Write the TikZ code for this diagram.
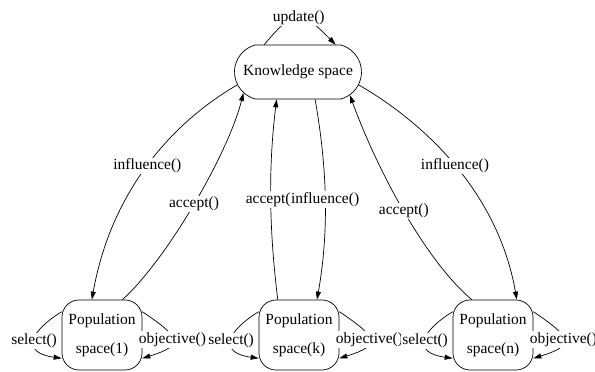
\documentclass[tikz,border=0pt]{standalone}
\usepackage{fontspec}
\setmainfont{Liberation Serif}
\usetikzlibrary{arrows.meta,shapes.misc}
\tikzset{
  kbox/.style={draw,rounded rectangle,rounded rectangle arc length=150,minimum width=127pt,minimum height=54pt,inner sep=0pt},
  popbox/.style={draw,rectangle,rounded corners=17pt,minimum width=80pt,minimum height=70pt,inner sep=0pt,align=center,font=\fontsize{15.5}{29}\selectfont},
  fnlabel/.style={fill=white,inner sep=1pt},
  flow/.style={-{Triangle[length=8pt,width=5pt]}},
}

\begin{document}
\begin{tikzpicture}[x=1pt,y=1pt,line width=0.7pt,font=\fontsize{15.5}{18}\selectfont]
    \useasboundingbox (0,0) rectangle (595,372);
    \node[kbox] (kspace) at (298,300) {Knowledge space};
    \node[popbox] (pop1) at (102,37) {Population\\space(1)};
    \node[popbox] (popk) at (299,37) {Population\\space(k)};
    \node[popbox] (popn) at (493,37) {Population\\space(n)};
    % knowledge space updates itself
    \draw[flow] (kspace.141) to[out=50,in=135,distance=49pt] node[fnlabel] {update()} (kspace.36);
    % left population space
    \draw[flow] (kspace.192) to[out=210,in=80,out distance=75pt,in distance=110pt] node[fnlabel] {influence()} (pop1.106);
    \draw[flow] (pop1.60) to[out=42,in=-104,out distance=60pt,in distance=62pt] node[fnlabel] {accept()} (kspace.201);
    % middle population space
    \draw[flow] (popk.121) to[out=97,in=-97,distance=70pt] node[fnlabel] {accept()} (kspace.232);
    \draw[flow] (kspace.302) to[out=-80,in=80,distance=70pt] node[fnlabel] {influence()} (popk.63);
    % right population space
    \draw[flow] (popn.121) to[out=140,in=-70,out distance=60pt,in distance=80pt] node[fnlabel] {accept()} (kspace.336);
    \draw[flow] (kspace.348) to[out=-30,in=100,out distance=75pt,in distance=110pt] node[fnlabel] {influence()} (popn.56);
    % loops on every population space
    \foreach \p in {pop1,popk,popn}
    {
        \draw[flow] (\p.150) to[out=212,in=172,distance=40pt] node[fnlabel] {select()} (\p.210);
        \draw[flow] (\p.30) to[out=-34,in=17,distance=45pt] node[fnlabel] {objective()} (\p.330);
    }
\end{tikzpicture}
\end{document}
